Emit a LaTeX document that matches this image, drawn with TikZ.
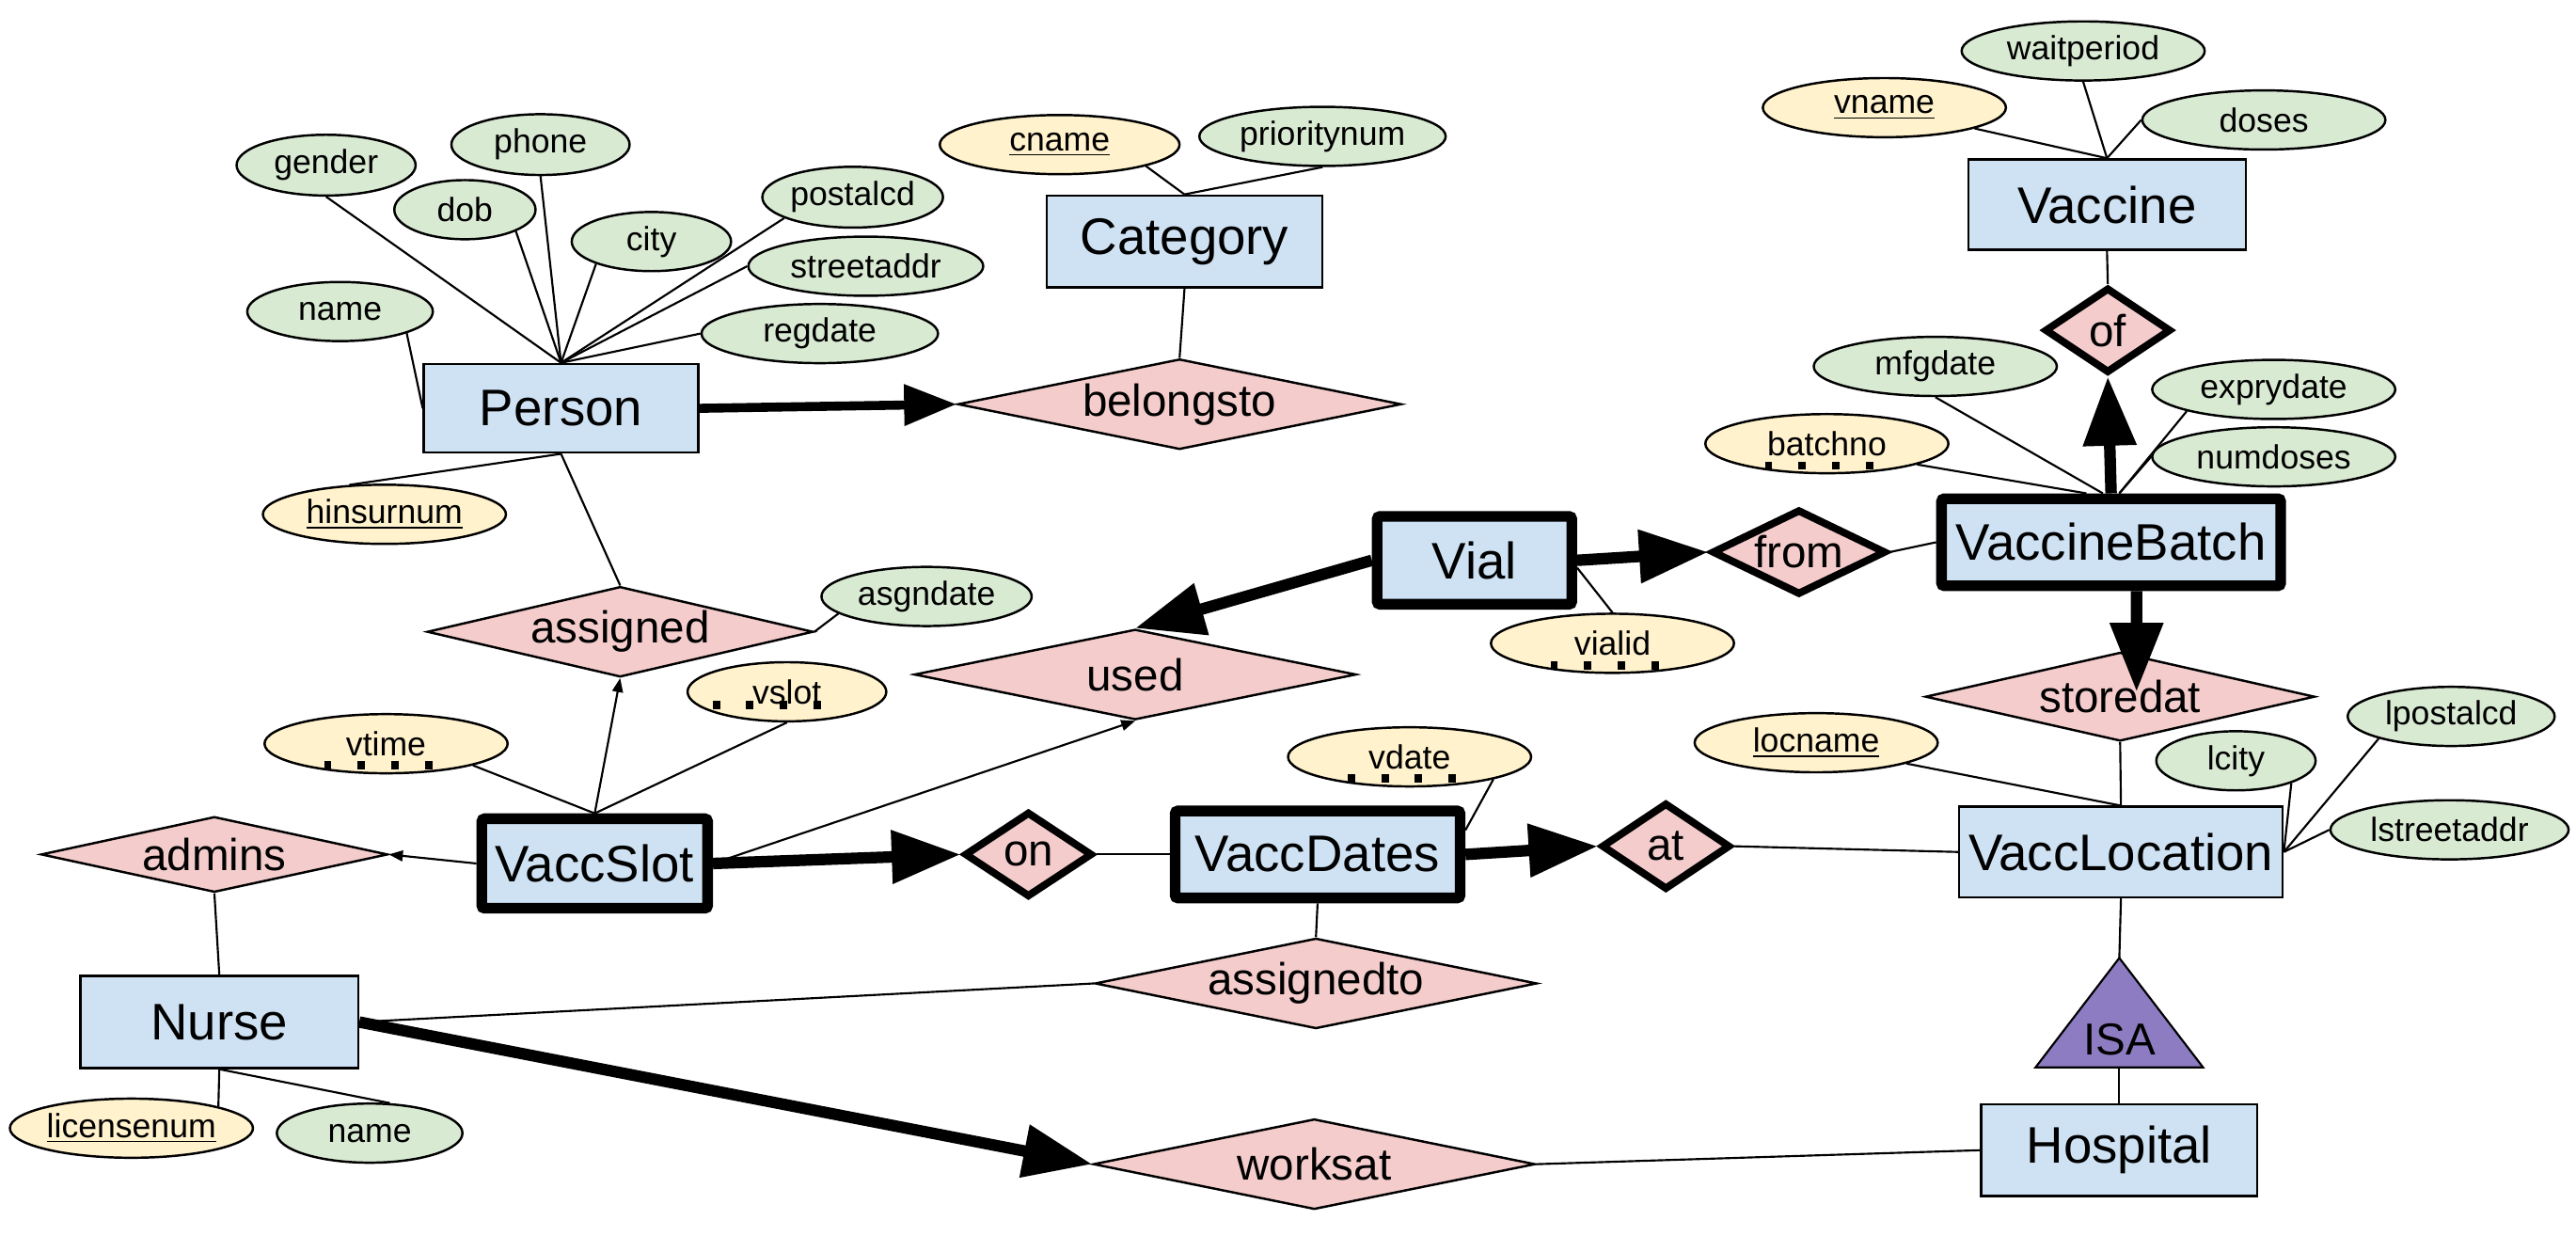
\documentclass[tikz,border=0pt]{standalone}
\usepackage{fontspec}
\setmainfont{Liberation Sans}
\usetikzlibrary{shapes.geometric,arrows.meta}
\definecolor{entfill}{HTML}{CFE2F3}
\definecolor{relfill}{HTML}{F4CCCC}
\definecolor{attfill}{HTML}{D9EAD3}
\definecolor{keyfill}{HTML}{FFF2CC}
\definecolor{isafill}{HTML}{8E7CC3}
\newcommand{\entfont}{\fontsize{17.8}{20}\selectfont}
\newcommand{\relfont}{\fontsize{15.5}{18}\selectfont}
\newcommand{\attfont}{\fontsize{11.6}{14}\selectfont}

\begin{document}
\begin{tikzpicture}[x=0.02cm,y=-0.02cm,
    entity/.style={draw, line width=0.8pt, fill=entfill, inner sep=0pt, font=\entfont,
      minimum width=3.36cm, minimum height=1.12cm},
    weak/.style={entity, line width=0.13cm, rounded corners=1pt},
    rel/.style={diamond, draw, line width=0.8pt, fill=relfill, inner sep=0pt,
      minimum width=5.38cm, minimum height=1.1cm, label={[font=\relfont]center:#1}},
    idrel/.style={rel=#1, line width=0.09cm, minimum width=1.56cm, minimum height=1.04cm},
    attr/.style={ellipse, draw, line width=0.8pt, fill=attfill, inner sep=0pt, font=\attfont,
      minimum width=2.96cm, minimum height=0.72cm},
    key/.style={attr, fill=keyfill},
    link/.style={line width=0.7pt},
    heavy/.style={line width=0.14cm, -{Triangle[length=0.84cm,width=0.62cm]}},
    light/.style={line width=0.7pt, -{Triangle[length=0.17cm,width=0.13cm]}},
    dotline/.style={line width=0.1cm, dash pattern=on 0.09cm off 0.32cm},
  ]
  \useasboundingbox (0,0) rectangle (1568,752);

  % Entities
  \node[entity, minimum width=3.34cm, minimum height=1.08cm] (Person) at (341.5,248.5) {Person};
  \node[entity] (Category) at (721,147) {Category};
  \node[entity, minimum width=3.38cm, minimum height=1.1cm] (Vaccine) at (1282.5,124.5) {Vaccine};
  \node[entity, minimum width=3.94cm, minimum height=1.1cm] (VaccLocation) at (1291,518.5) {VaccLocation};
  \node[entity] (Hospital) at (1290,700) {Hospital};
  \node[entity, minimum width=3.38cm] (Nurse) at (133.5,622) {Nurse};

  % Weak entities
  \node[weak, minimum width=4.13cm, minimum height=1.06cm] (VaccineBatch) at (1285,330) {VaccineBatch};
  \node[weak, minimum width=2.37cm, minimum height=1.07cm] (Vial) at (897.5,341) {Vial};
  \node[weak, minimum width=2.75cm, minimum height=1.09cm] (VaccSlot) at (362,525.5) {VaccSlot};
  \node[weak, minimum width=3.47cm, minimum height=1.06cm] (VaccDates) at (802,520) {VaccDates};

  % Relationships
  \node[rel=belongsto, minimum width=5.4cm] (belongsto) at (718,246) {};
  \node[rel=assigned, minimum width=4.7cm] (assigned) at (377.5,384.5) {};
  \node[rel=used] (used) at (691,410.5) {};
  \node[rel=admins, minimum width=4.22cm, minimum height=0.92cm] (admins) at (130.5,520) {};
  \node[rel=assignedto] (assignedto) at (801,598.5) {};
  \node[rel=worksat] (worksat) at (800,708.5) {};
  \node[rel=storedat, minimum width=4.74cm, minimum height=1.08cm] (storedat) at (1290.5,424) {};

  % Identifying relationships
  \node[idrel=of, minimum width=1.54cm] (ofrel) at (1283,201) {};
  \node[idrel=from, minimum width=2.12cm] (fromrel) at (1095,336) {};
  \node[idrel=on] (onrel) at (626,520) {};
  \node[idrel=at, minimum width=1.57cm, minimum height=1.06cm] (atrel) at (1014,515) {};

  % ISA
  \coordinate (isatop) at (1290,583);
  \coordinate (isabase) at (1290,649.6);
  \draw[link, fill=isafill] (isatop) -- (1341,649.6) -- (1239,649.6) -- cycle;
  \node[font=\relfont, inner sep=0pt] (isa) at (1290,632.7) {ISA};

  % Person attributes
  \node[attr, minimum width=2.18cm, minimum height=0.74cm] (gender) at (198.5,100.5) {gender};
  \node[attr, minimum width=2.17cm, minimum height=0.74cm] (phone) at (329,88) {phone};
  \node[attr, minimum width=1.72cm] (dob) at (283,127.6) {dob};
  \node[attr, minimum width=1.94cm] (city) at (396.5,147) {city};
  \node[attr, minimum width=2.2cm, minimum height=0.74cm] (postalcd) at (519,120) {postalcd};
  \node[attr, minimum width=2.86cm] (streetaddr) at (527,162) {streetaddr};
  \node[attr, minimum width=2.26cm] (pname) at (207,189.6) {name};
  \node[attr, minimum width=2.88cm] (regdate) at (499,203) {regdate};
  \node[key] (hinsurnum) at (234,313) {\underline{hinsurnum}};

  % Category attributes
  \node[key, minimum width=2.92cm] (cname) at (645,88) {\underline{cname}};
  \node[attr, minimum width=3cm] (prioritynum) at (805,83) {prioritynum};

  % Vaccine attributes
  \node[key] (vname) at (1147,65.5) {\underline{vname}};
  \node[attr] (waitperiod) at (1268,31) {waitperiod};
  \node[attr] (doses) at (1378,73) {doses};

  % VaccineBatch attributes
  \node[attr] (mfgdate) at (1178,223) {mfgdate};
  \node[key] (batchno) at (1112,270) {batchno};
  \node[attr] (exprydate) at (1384,237) {exprydate};
  \node[attr] (numdoses) at (1384,278) {numdoses};

  % Vial, VaccSlot, VaccDates attributes
  \node[key] (vialid) at (981.5,391.5) {vialid};
  \node[key] (vtime) at (235,452.6) {vtime};
  \node[key, minimum width=2.42cm] (vslot) at (479,421) {vslot};
  \node[attr, minimum width=2.56cm] (asgndate) at (564,363) {asgndate};
  \node[key] (vdate) at (858,460.6) {vdate};

  % VaccLocation attributes
  \node[key] (locname) at (1105.5,452) {\underline{locname}};
  \node[attr, minimum width=1.94cm] (lcity) at (1361,463) {lcity};
  \node[attr, minimum width=2.52cm] (lpostalcd) at (1492,436) {lpostalcd};
  \node[attr, minimum width=2.9cm] (lstreetaddr) at (1491,505) {lstreetaddr};

  % Nurse attributes
  \node[key] (licensenum) at (80,686.6) {\underline{licensenum}};
  \node[attr, minimum width=2.26cm] (nname) at (225,689.6) {name};

  % Partial keys
  \draw[dotline] ([shift={(-37.75,13.3)}]vtime.center) -- ++(66,0);
  \draw[dotline] ([shift={(-45.25,8.2)}]vslot.center) -- ++(66,0);
  \draw[dotline] ([shift={(-37.75,13.3)}]vdate.center) -- ++(66,0);
  \draw[dotline] ([shift={(-37.75,13.3)}]vialid.center) -- ++(66,0);
  \draw[dotline] ([shift={(-37.75,13.3)}]batchno.center) -- ++(66,0);

  % Attribute links
  \draw[link] (gender.south) -- (Person.north);
  \draw[link] (phone.south) -- (Person.north);
  \draw[link] (dob.-23) -- (Person.north);
  \draw[link] (city.202) -- (Person.north);
  \draw[link] (postalcd.197) -- (Person.north);
  \draw[link] (streetaddr.west) -- (Person.north);
  \draw[link] (regdate.west) -- (Person.north);
  \draw[link] (pname.-18) -- (Person.west);
  \draw[link] (hinsurnum.140) -- (Person.south);
  \draw[link] (cname.-14) -- (Category.north);
  \draw[link] (prioritynum.south) -- (Category.north);
  \draw[link] (vname.-13) -- (Vaccine.north);
  \draw[link] (waitperiod.south) -- (Vaccine.north);
  \draw[link] (doses.west) -- (Vaccine.north);
  \draw[link] (mfgdate.south) -- ([xshift=-0.1cm]VaccineBatch.north);
  \draw[link] (batchno.-13) -- ([xshift=-0.3cm]VaccineBatch.north);
  \draw[link] (exprydate.194) -- ([xshift=0.1cm]VaccineBatch.north);
  \draw[link] (numdoses.west) -- ([xshift=0.1cm]VaccineBatch.north);
  \draw[link] (vialid.north) -- ([yshift=-0.09cm]Vial.east);
  \draw[link] (vtime.-14) -- (VaccSlot.north);
  \draw[link] (vslot.south) -- (VaccSlot.north);
  \draw[link] (asgndate.191) -- (assigned.east);
  \draw[link] (vdate.-15) -- ([yshift=-0.3cm]VaccDates.north east);
  \draw[link] (locname.-13) -- (VaccLocation.north);
  \draw[link] (lcity.-22) -- (VaccLocation.east);
  \draw[link] (lpostalcd.197) -- (VaccLocation.east);
  \draw[link] (lstreetaddr.west) -- (VaccLocation.east);
  \draw[link] (licensenum.14) -- (Nurse.south);
  \draw[link] (nname.56) -- (Nurse.south);

  % Relationship links
  \draw[link] (Category.south) -- (belongsto.north);
  \draw[link] (Person.south) -- (assigned.north);
  \draw[link] (Vaccine.south) -- (ofrel.north);
  \draw[link] (fromrel.east) -- (VaccineBatch.west);
  \draw[link] (onrel.east) -- (VaccDates.west);
  \draw[link] (atrel.east) -- (VaccLocation.west);
  \draw[link] (VaccDates.south) -- (assignedto.north);
  \draw[link] (Nurse.east) -- (assignedto.west);
  \draw[link] (admins.south) -- (Nurse.north);
  \draw[link] (worksat.east) -- (Hospital.west);
  \draw[link] (storedat.south) -- (VaccLocation.north);
  \draw[link] (VaccLocation.south) -- (isatop);
  \draw[link] (isabase) -- (Hospital.north);

  % Thin arrows
  \draw[light] (VaccSlot.north) -- (assigned.south);
  \draw[light] (VaccSlot.west) -- (admins.east);
  \draw[light] (VaccSlot.east) -- (used.south);

  % Heavy arrows
  \coordinate (storetip) at (1300.5,421);
  \draw[heavy, line width=0.11cm, -{Triangle[length=0.64cm,width=0.48cm]}] (Person.east) -- (belongsto.west);
  \draw[heavy] (VaccineBatch.north) -- (ofrel.south);
  \draw[heavy] ([xshift=0.31cm]VaccineBatch.south) -- (storetip);
  \draw[heavy] (Vial.east) -- (fromrel.west);
  \draw[heavy] (Vial.west) -- (used.north);
  \draw[heavy] (VaccSlot.east) -- (onrel.west);
  \draw[heavy] (VaccDates.east) -- (atrel.west);
  \draw[heavy] (Nurse.east) -- (worksat.west);
\end{tikzpicture}
\end{document}
